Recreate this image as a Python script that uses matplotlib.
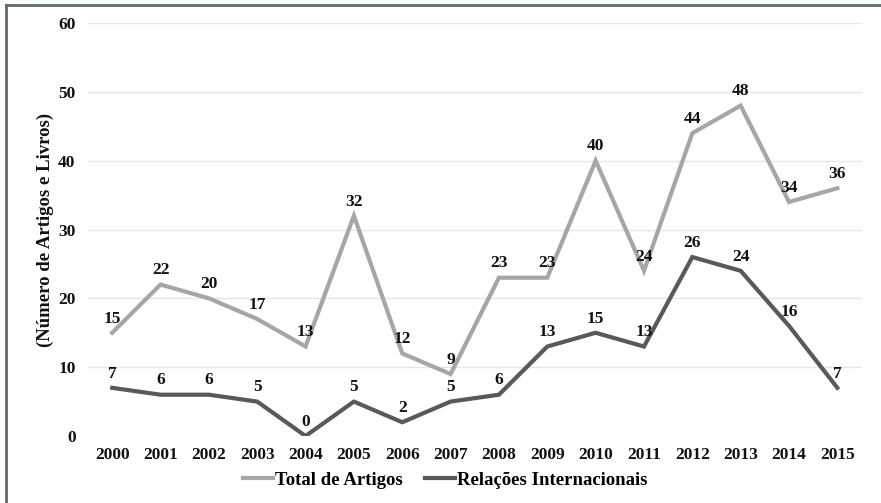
import matplotlib
matplotlib.use("Agg")
import matplotlib.pyplot as plt
from matplotlib.lines import Line2D

years = ["2000", "2001", "2002", "2003", "2004", "2005", "2006", "2007",
         "2008", "2009", "2010", "2011", "2012", "2013", "2014", "2015"]
total_artigos = [15, 22, 20, 17, 13, 32, 12, 9, 23, 23, 40, 24, 44, 48, 34, 36]
relacoes_int = [7, 6, 6, 5, 0, 5, 2, 5, 6, 13, 15, 13, 26, 24, 16, 7]
yticks = [0, 10, 20, 30, 40, 50, 60]

plt.rcParams['font.family'] = ['Liberation Serif', 'DejaVu Serif']
plt.rcParams['font.weight'] = 'bold'

fig = plt.figure(figsize=(8.81, 5.03), dpi=100)
ax = fig.add_axes([0.0999, 0.1332, 0.878, 0.821])

x = list(range(len(years)))
c_total = '#a6a6a6'
c_rel = '#595959'
ax.plot(x, total_artigos, color=c_total, lw=3, solid_joinstyle='miter', zorder=3)
ax.plot(x, relacoes_int, color=c_rel, lw=3, solid_joinstyle='miter', zorder=3)

fs = 12.5
for xi, v in zip(x, total_artigos):
    ax.annotate(str(v), (xi, v), xytext=(0, 4.5), textcoords='offset points',
                ha='center', va='bottom', fontsize=fs, fontweight='bold', color='#111111', zorder=4)
for xi, v in zip(x, relacoes_int):
    ax.annotate(str(v), (xi, v), xytext=(0, 4.5), textcoords='offset points',
                ha='center', va='bottom', fontsize=fs, fontweight='bold', color='#111111', zorder=4)

ax.set_xlim(-0.5, len(years) - 0.5)
ax.set_ylim(0, 60)
ax.set_yticks(yticks)
ax.set_xticks(x)
ax.set_xticklabels(years)
ax.tick_params(axis='both', length=0, labelsize=fs, colors='#111111')
ax.tick_params(axis='y', pad=9)
ax.tick_params(axis='x', pad=8)
for lbl in ax.get_xticklabels() + ax.get_yticklabels():
    lbl.set_fontweight('bold')
ax.grid(axis='y', color='#e6e6e6', lw=1)
ax.set_axisbelow(True)
for s in ax.spines.values():
    s.set_visible(False)

ax.set_ylabel('(Número de Artigos e Livros)', fontsize=13.5, fontweight='bold', color='#111111', labelpad=3)

handles = [Line2D([], [], color=c_total, lw=3), Line2D([], [], color=c_rel, lw=3)]
fig.legend(handles, ['Total de Artigos', 'Relações Internacionais'], loc='center',
           bbox_to_anchor=(0.505, 1 - 480 / 503), ncol=2, frameon=False,
           prop={'size': 13.5, 'weight': 'bold'}, handlelength=1.6, handletextpad=0.1,
           columnspacing=1.2)

# border on left and top
bc = '#5a6e62'
fig.add_artist(Line2D([5.5 / 881, 5.5 / 881], [0, 1 - 4.5 / 503], color=bc, lw=2, transform=fig.transFigure))
fig.add_artist(Line2D([5.5 / 881, 1], [1 - 4.5 / 503, 1 - 4.5 / 503], color=bc, lw=2, transform=fig.transFigure))

fig.savefig('out.png', dpi=100)
